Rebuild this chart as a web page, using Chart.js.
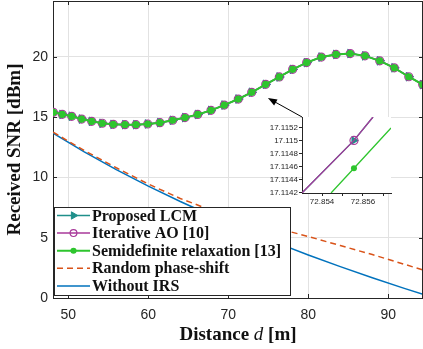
<!DOCTYPE html>
<html>
<head>
<meta charset="utf-8">
<script src="https://cdn.jsdelivr.net/npm/chart.js@4.4.1/dist/chart.umd.min.js"></script>
<style>
  html, body { margin: 0; padding: 0; background: #fff; }
  #wrap { position: relative; width: 423px; height: 349px; overflow: hidden; }
  #main { position: absolute; left: 0; top: 0; }
  #inset { position: absolute; left: 262px; top: 110px; }
</style>
</head>
<body>
<div id="wrap">
  <canvas id="main" width="423" height="349"></canvas>
  <canvas id="inset" width="134" height="98"></canvas>
</div>
<script>
// --- data ---
// marker positions of the optimised curves (LCM, AO and SDR overlap here)
const distance = [48.13, 49.25, 50.43, 51.68, 52.93, 54.25, 55.63, 57.09, 58.46, 59.93,
                  61.46, 63.05, 64.59, 66.18, 67.84, 69.50, 71.25, 72.93, 74.68, 76.38,
                  78.05, 79.80, 81.63, 83.47, 85.25, 87.09, 88.93, 90.75, 92.56, 94.30];
const snrOptimized = [15.40, 15.23, 15.07, 14.84, 14.65, 14.49, 14.40, 14.37, 14.37, 14.43,
                      14.54, 14.74, 14.96, 15.22, 15.56, 16.00, 16.50, 17.06, 17.72, 18.33,
                      18.96, 19.52, 19.98, 20.20, 20.27, 20.08, 19.67, 19.09, 18.35, 17.70];

// baselines
const distanceBase = [48.1, 52, 56, 60, 64, 68, 72, 76, 80, 84, 88, 92, 94.34];
const snrRandom  = [13.75, 12.23, 10.80, 9.45, 8.25, 7.25, 6.50, 5.80, 5.10, 4.35, 3.60, 2.80, 2.32];
const snrNoIrs   = [13.67, 12.12, 10.65, 9.28, 8.00, 6.80, 5.66, 4.59, 3.57, 2.60, 1.68, 0.80, 0.31];

const xTicks = [50, 60, 70, 80, 90];
const yTicks = [0, 5, 10, 15, 20];

// zoomed inset
const insetAoX  = [72.85302, 72.85556, 72.85649];
const insetAoY  = [17.11419, 17.11500, 17.11536];
const insetSdrX = [72.85444, 72.85556, 72.85737];
const insetSdrY = [17.11419, 17.11457, 17.11519];
const insetXTicks = [72.854, 72.855, 72.856, 72.857];
const insetXLabels = [72.854, 72.856];
const insetYTicks = [17.1142, 17.1144, 17.1146, 17.1148, 17.115, 17.1152];

// arrow pointing from the inset to the zoomed spot
const arrowFrom = { x: 79.22, y: 15.01 };
const arrowTo   = { x: 74.96, y: 16.58 };

const TEAL = '#1f8f8a';
const PURPLE = '#a8399a';
const GREEN = '#2ec52e';
const ORANGE = '#d95319';
const BLUE = '#0072bd';
const AXIS = '#262626';
const GRID = '#e2e2e2';

const pts = (xs, ys) => xs.map((x, i) => ({ x: x, y: ys[i] }));

// keep Chart.js from shrinking the plot area for edge labels
const noEdgePad = s => { s.paddingTop = 0; s.paddingBottom = 0; s.paddingLeft = 0; s.paddingRight = 0; };

function drawMarker(ctx, ds, x, y, r) {
  if (!r) return;
  ctx.save();
  ctx.beginPath();
  if (ds.pointStyle === 'triangle') {
    ctx.moveTo(x + r, y);
    ctx.lineTo(x - r * 0.5, y - r * 0.866);
    ctx.lineTo(x - r * 0.5, y + r * 0.866);
    ctx.closePath();
  } else {
    ctx.arc(x, y, r, 0, Math.PI * 2);
  }
  if (ds.pointBackgroundColor !== 'transparent') {
    ctx.fillStyle = ds.pointBackgroundColor || ds.borderColor;
    ctx.fill();
  }
  if (ds.pointBorderWidth) {
    ctx.lineWidth = ds.pointBorderWidth;
    ctx.strokeStyle = ds.borderColor;
    ctx.stroke();
  }
  ctx.restore();
}

// box, inner ticks, x title, legend and arrow
const mainDecor = {
  id: 'mainDecor',
  afterDraw(chart) {
    const { ctx, chartArea: a, scales: { x, y } } = chart;
    ctx.save();
    ctx.strokeStyle = AXIS;
    ctx.lineWidth = 1;
    ctx.beginPath();
    ctx.moveTo(a.left, a.top + 0.5);
    ctx.lineTo(a.right, a.top + 0.5);
    ctx.moveTo(a.right - 0.5, a.top);
    ctx.lineTo(a.right - 0.5, a.bottom);
    xTicks.forEach(v => {
      const px = Math.round(x.getPixelForValue(v)) + 0.5;
      ctx.moveTo(px, a.bottom); ctx.lineTo(px, a.bottom - 4);
      ctx.moveTo(px, a.top); ctx.lineTo(px, a.top + 4);
    });
    yTicks.forEach(v => {
      const py = Math.round(y.getPixelForValue(v)) + 0.5;
      ctx.moveTo(a.left, py); ctx.lineTo(a.left + 4, py);
      ctx.moveTo(a.right, py); ctx.lineTo(a.right - 4, py);
    });
    ctx.stroke();

    // x title with italic d
    const parts = [
      ['Distance ', 'bold 19px "Liberation Serif"'],
      ['d', 'italic 19px "Liberation Serif"'],
      [' [m]', 'bold 19px "Liberation Serif"']
    ];
    let total = 0;
    parts.forEach(p => { ctx.font = p[1]; total += ctx.measureText(p[0]).width; });
    let tx = (a.left + a.right) / 2 - total / 2;
    ctx.fillStyle = '#111';
    ctx.textBaseline = 'alphabetic';
    parts.forEach(p => {
      ctx.font = p[1];
      ctx.fillText(p[0], tx, 340);
      tx += ctx.measureText(p[0]).width;
    });

    // legend
    const order = [2, 1, 0, 3, 4];
    const bx = 54, by = 207, bw = 237, bh = 89;
    ctx.fillStyle = '#fff';
    ctx.fillRect(bx, by, bw, bh);
    ctx.strokeStyle = AXIS;
    ctx.strokeRect(bx + 0.5, by + 0.5, bw - 1, bh - 1);
    order.forEach((idx, i) => {
      const ds = chart.data.datasets[idx];
      const ry = 215.5 + i * 17.6;
      ctx.save();
      ctx.strokeStyle = ds.borderColor;
      ctx.lineWidth = ds.borderWidth;
      ctx.setLineDash(ds.borderDash || []);
      ctx.beginPath();
      ctx.moveTo(57, ry); ctx.lineTo(90, ry);
      ctx.stroke();
      ctx.restore();
      drawMarker(ctx, ds, 73.5, ry, ds.pointRadius ? ds.pointRadius * 0.85 : 0);
      ctx.fillStyle = '#111';
      ctx.font = 'bold 16px "Liberation Serif"';
      ctx.textBaseline = 'middle';
      ctx.fillText(ds.label, 92, ry + 1);
    });

    // arrow
    const x0 = x.getPixelForValue(arrowFrom.x), y0 = y.getPixelForValue(arrowFrom.y);
    const x1 = x.getPixelForValue(arrowTo.x), y1 = y.getPixelForValue(arrowTo.y);
    const ang = Math.atan2(y1 - y0, x1 - x0);
    ctx.strokeStyle = '#000';
    ctx.fillStyle = '#000';
    ctx.lineWidth = 1;
    ctx.beginPath();
    ctx.moveTo(x0, y0);
    ctx.lineTo(x1 - 6 * Math.cos(ang), y1 - 6 * Math.sin(ang));
    ctx.stroke();
    ctx.beginPath();
    ctx.moveTo(x1, y1);
    ctx.lineTo(x1 - 9 * Math.cos(ang) + 3.5 * Math.sin(ang), y1 - 9 * Math.sin(ang) - 3.5 * Math.cos(ang));
    ctx.lineTo(x1 - 9 * Math.cos(ang) - 3.5 * Math.sin(ang), y1 - 9 * Math.sin(ang) + 3.5 * Math.cos(ang));
    ctx.closePath();
    ctx.fill();
    ctx.restore();
  }
};

new Chart(document.getElementById('main'), {
  type: 'line',
  data: {
    datasets: [
      {
        label: 'Semidefinite relaxation [13]',
        data: pts(distance, snrOptimized),
        borderColor: GREEN, backgroundColor: GREEN, pointBackgroundColor: GREEN,
        borderWidth: 2, pointStyle: 'circle', pointRadius: 3.6, pointBorderWidth: 0
      },
      {
        label: 'Iterative AO [10]',
        data: pts(distance, snrOptimized),
        borderColor: PURPLE, backgroundColor: PURPLE, pointBackgroundColor: 'transparent',
        borderWidth: 1.5, pointStyle: 'circle', pointRadius: 4, pointBorderWidth: 1.2
      },
      {
        label: 'Proposed LCM',
        data: pts(distance, snrOptimized),
        borderColor: TEAL, backgroundColor: TEAL, pointBackgroundColor: TEAL,
        borderWidth: 1.5, pointStyle: 'triangle', rotation: 90, pointRadius: 5, pointBorderWidth: 1
      },
      {
        label: 'Random phase-shift',
        data: pts(distanceBase, snrRandom),
        borderColor: ORANGE, borderWidth: 1.5, borderDash: [6, 4], pointRadius: 0
      },
      {
        label: 'Without IRS',
        data: pts(distanceBase, snrNoIrs),
        borderColor: BLUE, borderWidth: 1.5, pointRadius: 0
      }
    ]
  },
  options: {
    responsive: false,
    animation: false,
    devicePixelRatio: 1,
    layout: { autoPadding: false, padding: { top: 1, right: 0, bottom: 0, left: 0 } },
    elements: { line: { tension: 0, fill: false } },
    plugins: { legend: { display: false }, tooltip: { enabled: false } },
    scales: {
      x: {
        type: 'linear', min: 48.09, max: 94.34,
        afterBuildTicks: s => { s.ticks = xTicks.map(v => ({ value: v })); },
        afterFit: s => { s.height = 51; noEdgePad(s); },
        grid: { color: GRID, drawTicks: false },
        border: { color: AXIS },
        ticks: { color: AXIS, font: { family: 'Liberation Sans', size: 14 }, padding: 9, maxRotation: 0 }
      },
      y: {
        type: 'linear', min: 0, max: 24.63,
        afterBuildTicks: s => { s.ticks = yTicks.map(v => ({ value: v })); },
        afterFit: s => { s.width = 53; noEdgePad(s); },
        grid: { color: GRID, drawTicks: false },
        border: { color: AXIS },
        ticks: { color: AXIS, font: { family: 'Liberation Sans', size: 14 }, padding: 5 },
        title: {
          display: true, text: 'Received SNR [dBm]', color: '#111',
          font: { family: 'Liberation Serif', size: 19, weight: 'bold' },
          padding: { top: 4, bottom: 0 }
        }
      }
    }
  },
  plugins: [mainDecor]
});

// --- inset ---
const insetBg = {
  id: 'insetBg',
  beforeDraw(chart) {
    const { ctx, chartArea: a } = chart;
    ctx.save();
    ctx.fillStyle = '#fff';
    ctx.fillRect(a.left, a.top, a.right - a.left, a.bottom - a.top);
    ctx.restore();
  }
};

const insetFont = { family: 'Liberation Sans', size: 8 };
new Chart(document.getElementById('inset'), {
  type: 'line',
  data: {
    datasets: [
      {
        data: pts(insetSdrX, insetSdrY),
        borderColor: GREEN, pointBackgroundColor: GREEN, borderWidth: 1.3,
        pointRadius: [0, 3, 0], pointBorderWidth: 0
      },
      {
        data: pts(insetAoX, insetAoY),
        borderColor: PURPLE, pointBackgroundColor: 'transparent', borderWidth: 1.3,
        pointRadius: [0, 4, 0], pointBorderWidth: 1.2
      },
      {
        data: pts(insetAoX, insetAoY),
        borderColor: TEAL, pointBackgroundColor: TEAL, borderWidth: 1.3,
        pointStyle: 'triangle', rotation: 90, pointRadius: [0, 5, 0], pointBorderWidth: 0
      }
    ]
  },
  options: {
    responsive: false,
    animation: false,
    devicePixelRatio: 1,
    layout: { autoPadding: false, padding: { top: 7, right: 5, bottom: 0, left: 0 } },
    elements: { line: { tension: 0, fill: false } },
    plugins: { legend: { display: false }, tooltip: { enabled: false } },
    scales: {
      x: {
        type: 'linear', min: 72.85302, max: 72.85737,
        afterBuildTicks: s => { s.ticks = insetXTicks.map(v => ({ value: v })); },
        afterFit: s => { s.height = 15; noEdgePad(s); },
        grid: { drawOnChartArea: false, drawTicks: true, tickLength: 3, color: AXIS },
        border: { color: AXIS },
        ticks: {
          color: AXIS, font: insetFont, padding: 1, maxRotation: 0, autoSkip: false,
          callback: v => insetXLabels.some(l => Math.abs(l - v) < 1e-7) ? String(+v.toFixed(3)) : ''
        }
      },
      y: {
        type: 'linear', min: 17.11419, max: 17.11536,
        afterBuildTicks: s => { s.ticks = insetYTicks.map(v => ({ value: v })); },
        afterFit: s => { s.width = 40; noEdgePad(s); },
        grid: { drawOnChartArea: false, drawTicks: true, tickLength: 3, color: AXIS },
        border: { color: AXIS },
        ticks: {
          color: AXIS, font: insetFont, padding: 1, autoSkip: false,
          callback: v => String(+v.toFixed(4))
        }
      }
    }
  },
  plugins: [insetBg]
});
</script>
</body>
</html>
